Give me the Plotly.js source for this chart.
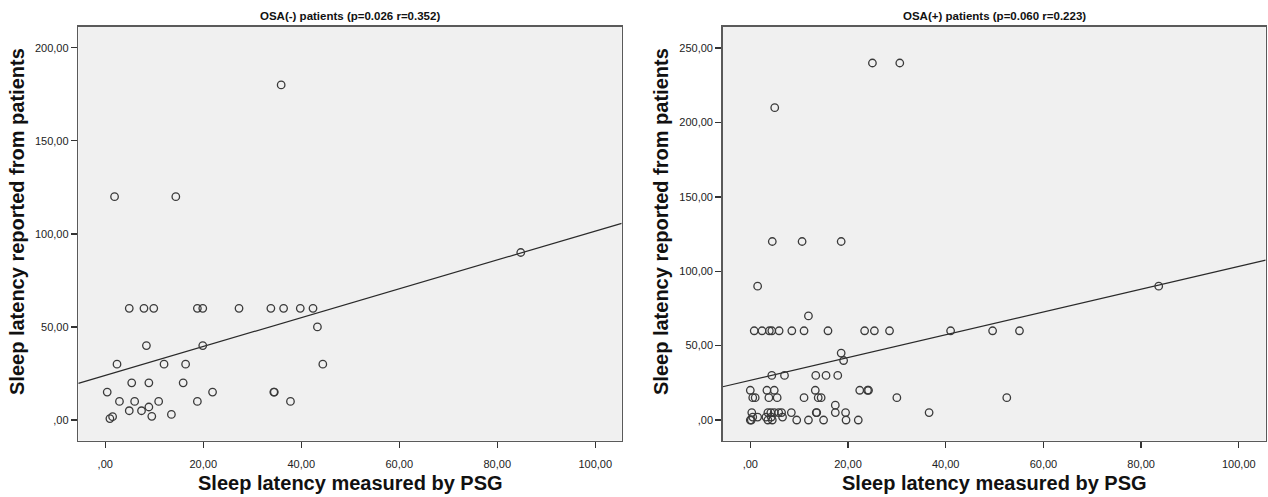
<!DOCTYPE html>
<html>
<head>
<meta charset="utf-8">
<script src="https://cdn.plot.ly/plotly-3.0.1.min.js"></script>
<style>html,body{margin:0;padding:0;background:#fff;}#chart{width:1268px;height:497px;}</style>
</head>
<body>
<div id="chart"></div>
<script>
// OSA(-) patients: PSG sleep latency (x) vs patient-reported sleep latency (y)
var negX = [35.9, 1.9, 14.4, 4.9, 7.9, 9.9, 18.8, 19.9, 27.3, 33.8, 36.4, 39.8, 42.4, 43.3, 8.4, 19.9, 2.4, 12.0, 16.4, 44.4, 5.4, 8.9, 15.9, 0.4, 21.9, 34.4, 34.5, 2.9, 6.0, 10.9, 18.8, 37.8, 4.9, 7.4, 8.9, 13.5, 9.5, 0.95, 1.5, 84.8];
var negY = [180, 120, 120, 60, 60, 60, 60, 60, 60, 60, 60, 60, 60, 50, 40, 40, 30, 30, 30, 30, 20, 20, 20, 15, 15, 15, 15, 10, 10, 10, 10, 10, 5, 5, 7, 3, 2, 0.8, 1.8, 90];
// OSA(+) patients
var posX = [25.0, 30.6, 5.0, 4.5, 10.6, 18.6, 1.5, 83.6, 11.9,
  0.8, 2.4, 3.9, 4.4, 5.9, 8.5, 11.0, 15.9, 23.4, 25.4, 28.5, 41.0, 49.6, 55.1,
  18.6, 19.1, 4.4, 7.0, 13.4, 15.5, 17.9,
  0.0, 3.4, 4.9, 13.3, 22.4, 24.0, 24.2,
  0.5, 1.0, 3.8, 5.5, 11.0, 13.9, 14.5, 30.0, 52.5,
  17.4,
  0.3, 3.6, 4.2, 4.9, 5.8, 6.4, 8.4, 13.5, 13.6, 17.4, 19.5, 36.6,
  0.5, 1.5, 3.2, 4.3, 6.6,
  0.0, 0.2, 3.6, 4.5, 9.5, 11.9, 15.0, 19.6, 22.1];
var posY = [240, 240, 210, 120, 120, 120, 90, 90, 70,
  60, 60, 60, 60, 60, 60, 60, 60, 60, 60, 60, 60, 60, 60,
  45, 40, 30, 30, 30, 30, 30,
  20, 20, 20, 20, 20, 20, 20,
  15, 15, 15, 15, 15, 15, 15, 15, 15,
  10,
  5, 5, 5, 5, 5, 5, 5, 5, 5, 5, 5, 5,
  2, 2, 2, 2, 2,
  0, 0, 0, 0, 0, 0, 0, 0, 0];
// fitted regression lines (intercept, slope)
var negFit = [24.0, 0.775];
var posFit = [26.7, 0.766];

var xTickVals = [0, 20, 40, 60, 80, 100];
var xTickText = [',00', '20,00', '40,00', '60,00', '80,00', '100,00'];
var negYTickVals = [0, 50, 100, 150, 200];
var negYTickText = [',00', '50,00', '100,00', '150,00', '200,00'];
var posYTickVals = [0, 50, 100, 150, 200, 250];
var posYTickText = [',00', '50,00', '100,00', '150,00', '200,00', '250,00'];
var titles = ['OSA(-) patients (p=0.026 r=0.352)', 'OSA(+) patients (p=0.060 r=0.223)'];
var xTitle = 'Sleep latency measured by PSG';
var yTitle = 'Sleep latency reported from patients';

var W = 1268, H = 497;
var FONT = 'Liberation Sans, Arial, sans-serif';
var negXRange = [-5.5, 105.4], negYRange = [-11.1, 211.3];
var posXRange = [-5.65, 105.5], posYRange = [-13.9, 264.4];
var domL = [78.3 / W, 621.7 / W], domR = [722.7 / W, 1265.7 / W];
var domY = [(H - 440.7) / H, (H - 26.7) / H];

function fitLine(fit, range, xa, ya) {
  return {x: range, y: range.map(function (v) { return fit[0] + fit[1] * v; }),
    xaxis: xa, yaxis: ya, mode: 'lines', type: 'scatter',
    line: {color: '#2a2a2a', width: 1.2}, hoverinfo: 'skip', showlegend: false};
}
function pts(x, y, xa, ya) {
  return {x: x, y: y, xaxis: xa, yaxis: ya, mode: 'markers', type: 'scatter',
    marker: {symbol: 'circle-open', size: 7.5, color: '#3a3a3a', line: {width: 1.3, color: '#3a3a3a'}},
    showlegend: false, cliponaxis: false};
}
var data = [
  fitLine(negFit, negXRange, 'x', 'y'),
  pts(negX, negY, 'x', 'y'),
  fitLine(posFit, posXRange, 'x2', 'y2'),
  pts(posX, posY, 'x2', 'y2')
];

function xax(dom, range, anchor) {
  return {domain: dom, range: range, anchor: anchor, tickvals: xTickVals, ticktext: xTickText,
    ticks: 'outside', ticklen: 6, tickwidth: 1.3, tickcolor: '#333', ticklabelstandoff: 7,
    showline: true, mirror: true, linecolor: '#5a5a5a', linewidth: 1.5,
    showgrid: false, zeroline: false, tickfont: {family: FONT, size: 11, color: '#222'}};
}
function yax(dom, range, anchor, tv, tt) {
  return {domain: dom, range: range, anchor: anchor, tickvals: tv, ticktext: tt,
    ticks: 'outside', ticklen: 6, tickwidth: 1.3, tickcolor: '#333',
    showline: true, mirror: true, linecolor: '#5a5a5a', linewidth: 1.5,
    showgrid: false, zeroline: false, tickfont: {family: FONT, size: 11, color: '#222'}};
}
function ann(text, px, py, size, angle) {
  return {text: '<b>' + text + '</b>', xref: 'paper', yref: 'paper', x: px / W, y: 1 - py / H,
    xanchor: 'center', yanchor: 'middle', showarrow: false, textangle: angle || 0,
    font: {family: FONT, size: size, color: '#111'}};
}
var layout = {
  width: W, height: H, margin: {l: 0, r: 0, t: 0, b: 0},
  paper_bgcolor: '#ffffff', plot_bgcolor: '#f0f0f0', showlegend: false,
  xaxis: xax(domL, negXRange, 'y'),
  yaxis: yax(domY, negYRange, 'x', negYTickVals, negYTickText),
  xaxis2: xax(domR, posXRange, 'y2'),
  yaxis2: yax(domY, posYRange, 'x2', posYTickVals, posYTickText),
  annotations: [
    ann(titles[0], 350, 16, 11.5),
    ann(titles[1], 994, 16, 11.5),
    ann(xTitle, 350, 483, 20),
    ann(xTitle, 994, 483, 20),
    ann(yTitle, 17, 222, 20, -90),
    ann(yTitle, 661, 222, 20, -90)
  ]
};
Plotly.newPlot('chart', data, layout, {staticPlot: true, displayModeBar: false});
</script>
</body>
</html>
